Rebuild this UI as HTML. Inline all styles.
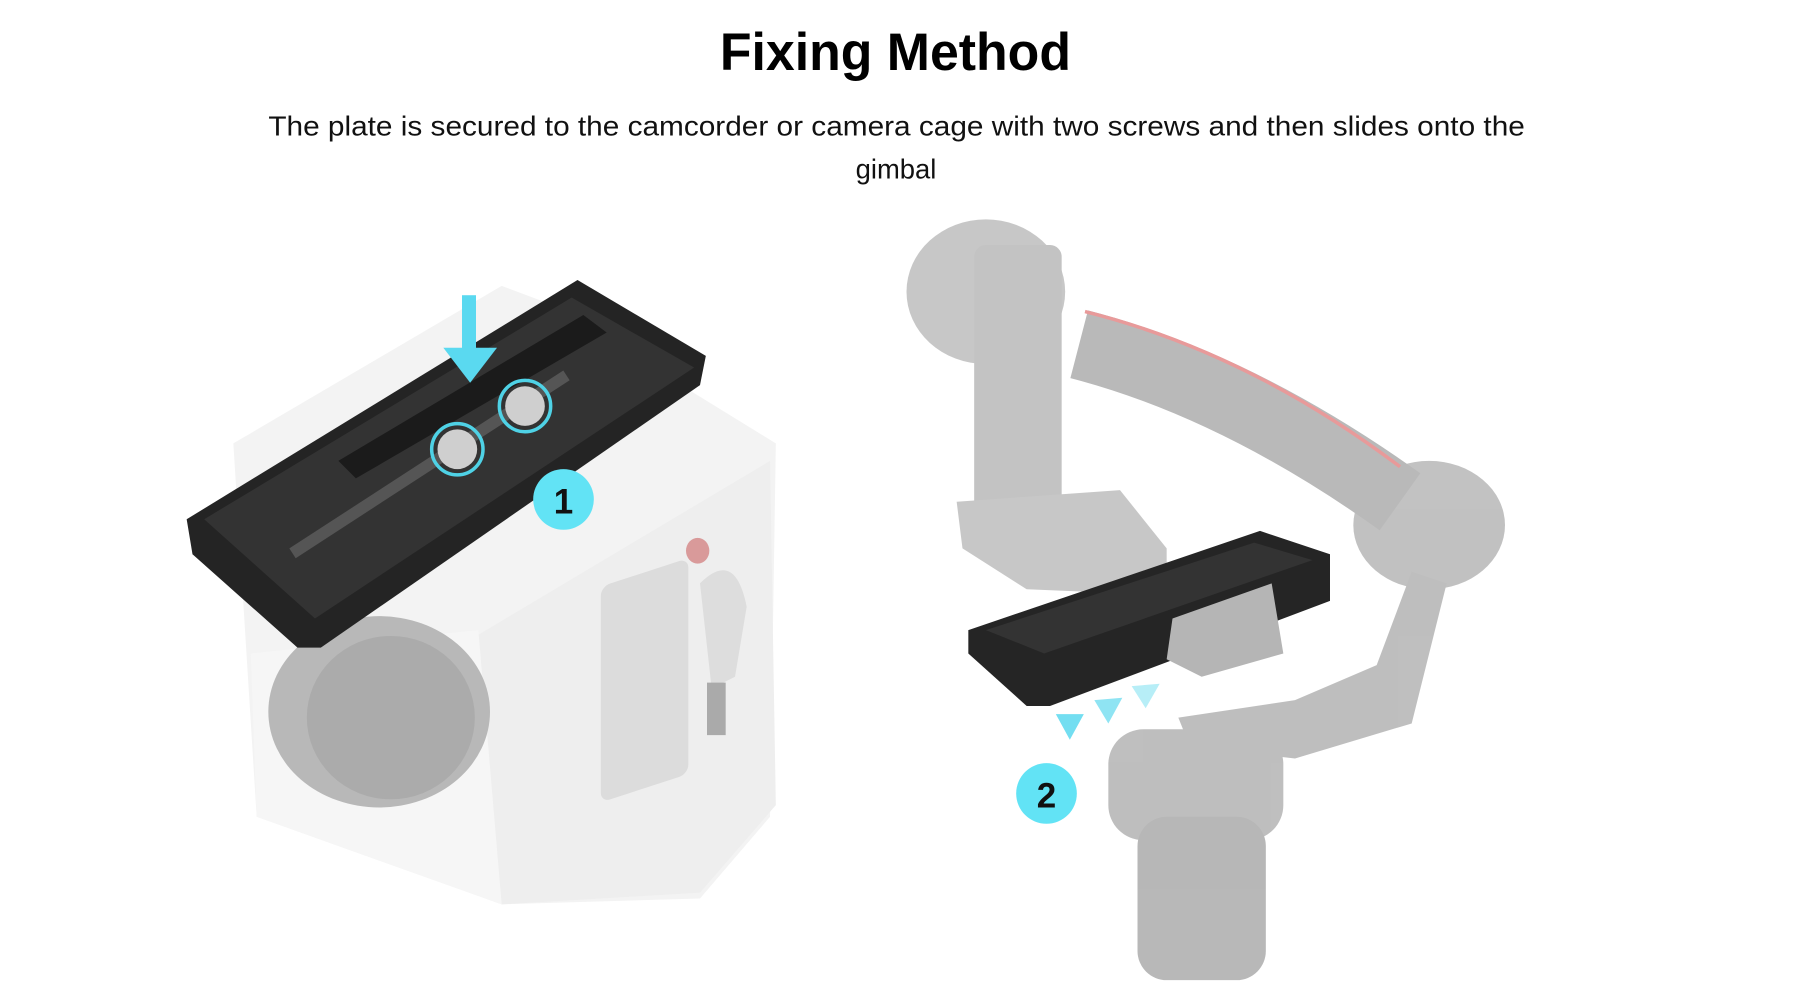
<!DOCTYPE html>
<html><head><meta charset="utf-8"><style>
html,body{margin:0;padding:0;background:#fff;width:1820px;height:986px;overflow:hidden}
svg{display:block}
</style></head><body>
<svg width="1820" height="986" viewBox="0 0 1560 845" preserveAspectRatio="none" xmlns="http://www.w3.org/2000/svg">
<text x="617" y="60" textLength="301" lengthAdjust="spacingAndGlyphs" font-family="Liberation Sans, sans-serif" font-weight="bold" font-size="45" fill="#000">Fixing Method</text>
<text x="230" y="116" textLength="1077" lengthAdjust="spacingAndGlyphs" font-family="Liberation Sans, sans-serif" font-size="23.5" fill="#111">The plate is secured to the camcorder or camera cage with two screws and then slides onto the</text>
<text x="768" y="153" text-anchor="middle" font-family="Liberation Sans, sans-serif" font-size="23.5" fill="#111">gimbal</text>

<!-- camera body -->
<polygon points="200,380 430,245 470,260 665,380 660,700 600,770 430,775 220,700" fill="#f3f3f3"/>
<polygon points="400,550 660,395 665,690 600,765 430,775" fill="#eeeeee"/>
<polygon points="215,560 410,540 430,775 220,700" fill="#f6f6f6"/>
<ellipse cx="325" cy="610" rx="95" ry="82" fill="#b8b8b8"/>
<ellipse cx="335" cy="615" rx="72" ry="70" fill="#ababab"/>
<rect x="515" y="500" width="75" height="185" rx="8" fill="#dcdcdc" transform="skewY(-18) translate(0,170)"/>
<ellipse cx="598" cy="472" rx="10" ry="11" fill="#d99a9a"/>
<path d="M600,500 Q630,470 640,520 L630,580 L610,590 Z" fill="#ddd"/>
<rect x="606" y="585" width="16" height="45" fill="#aaa"/>
<!-- plate 1 -->
<polygon points="160,445 495,240 605,305 600,330 275,555 255,555 165,475" fill="#242424"/>
<polygon points="175,445 490,255 595,315 270,530" fill="#333"/>
<polygon points="290,395 500,270 520,285 305,410" fill="#1b1b1b"/>
<rect x="248" y="470" width="280" height="10" fill="#555" transform="rotate(-33 248 470)"/>
<rect x="396" y="253" width="12" height="50" fill="#5ad9f0"/>
<polygon points="380,298 426,298 403,328" fill="#5ad9f0"/>
<circle cx="392" cy="385" r="22" fill="none" stroke="#4fd2e6" stroke-width="3"/>
<circle cx="392" cy="385" r="17" fill="#cfcfcf"/>
<circle cx="450" cy="348" r="22" fill="none" stroke="#4fd2e6" stroke-width="3"/>
<circle cx="450" cy="348" r="17" fill="#cfcfcf"/>
<circle cx="483" cy="428" r="26" fill="#62e3f5"/>
<text x="483" y="440" text-anchor="middle" font-family="Liberation Sans, sans-serif" font-weight="bold" font-size="30" fill="#111">1</text>

<!-- gimbal -->
<g fill="#c2c2c2" opacity="0.9">
<ellipse cx="845" cy="250" rx="68" ry="62"/>
<rect x="835" y="210" width="75" height="230" rx="10" fill="#bdbdbd"/>
<polygon points="820,430 960,420 1000,470 1000,510 880,505 825,470"/>
<ellipse cx="1225" cy="450" rx="65" ry="55" fill="#bbb"/>
<path d="M1210,490 L1240,500 L1210,620 L1110,650 L1020,640 L1010,615 L1110,600 L1180,570 Z" fill="#b8b8b8"/>
<rect x="950" y="625" width="150" height="95" rx="30" fill="#b8b8b8"/>
<rect x="975" y="700" width="110" height="140" rx="25" fill="#b0b0b0"/>
</g>
<path d="M925,295 Q1060,330 1200,430" stroke="#b9b9b9" stroke-width="60" fill="none"/>
<path d="M930,267 Q1070,302 1200,400" stroke="#e89a9a" stroke-width="3" fill="none"/>
<!-- plate 2 -->
<polygon points="830,540 1080,455 1140,475 1140,515 900,605 880,605 830,560" fill="#252525"/>
<polygon points="845,540 1075,465 1125,480 895,560" fill="#333"/>
<polygon points="1005,530 1090,500 1100,560 1030,580 1000,565" fill="#b5b5b5"/>
<polygon points="905,612 929,612 917,634" fill="#73def1"/>
<polygon points="938,600 962,598 950,620" fill="#8fe4f3"/>
<polygon points="970,588 994,586 982,607" fill="#b7eef7"/>
<circle cx="897" cy="680" r="26" fill="#62e3f5"/>
<text x="897" y="692" text-anchor="middle" font-family="Liberation Sans, sans-serif" font-weight="bold" font-size="30" fill="#111">2</text>
</svg>
</body></html>
